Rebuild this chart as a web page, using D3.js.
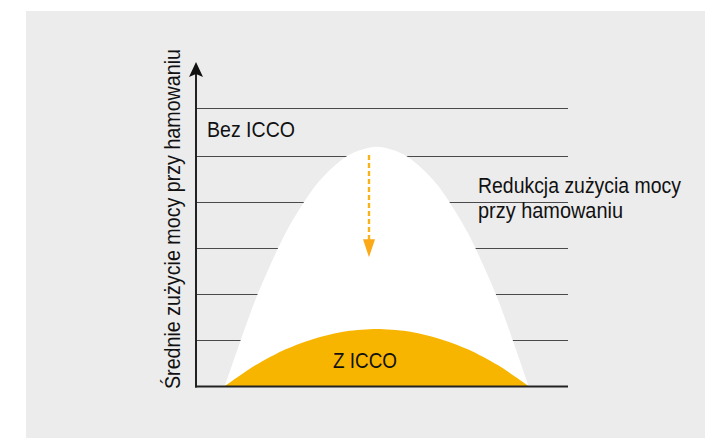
<!DOCTYPE html>
<html>
<head>
<meta charset="utf-8">
<script src="https://cdn.jsdelivr.net/npm/d3@7"></script>
<style>
  html, body { margin: 0; padding: 0; background: #ffffff; }
  svg { display: block; }
  text { font-family: "Liberation Sans", Arial, sans-serif; fill: #111; }
</style>
</head>
<body>
<svg id="chart" width="705" height="438"></svg>
<script>
// ---- data (schematic) ----
const timeSteps = [0, 1, 2, 3, 4, 5, 6, 7, 8, 9, 10];
const withoutIcco = [0, 1.87, 3.33, 4.37, 4.99, 5.2, 4.99, 4.37, 3.33, 1.87, 0];
const withIcco = [0, 0.45, 0.8, 1.04, 1.19, 1.24, 1.19, 1.04, 0.8, 0.45, 0];
const gridValues = [1, 2, 3, 4, 5, 6.04];
const yAxisTitle = "Średnie zużycie mocy przy hamowaniu";
const labelWithout = "Bez ICCO";
const labelWith = "Z ICCO";
const reductionLines = ["Redukcja zużycia mocy", "przy hamowaniu"];
const reductionFrom = 5.0;   // dashed arrow start (value units)
const reductionTo = 2.8;     // dashed arrow end

const svg = d3.select("#chart");

// background panel
svg.append("rect").attr("x", 26).attr("y", 11).attr("width", 679).attr("height", 427).attr("fill", "#ececec");

const x0 = 196, x1 = 568, yBase = 386;
const x = d3.scaleLinear().domain([0, 10]).range([225, 528.5]);
const y = d3.scaleLinear().domain([0, 5]).range([yBase, 156]);

// gridlines
svg.append("g").selectAll("line").data(gridValues).join("line")
  .attr("x1", x0).attr("x2", x1)
  .attr("y1", d => Math.round(y(d)) + 0.5).attr("y2", d => Math.round(y(d)) + 0.5)
  .attr("stroke", "#4a4a4a").attr("stroke-width", 1.2);

// areas
const area = vals => d3.area()
  .x((d, i) => x(timeSteps[i]))
  .y0(y(0))
  .y1(d => y(d))
  .curve(d3.curveCardinal.tension(0.2))(vals);

svg.append("path").attr("d", area(withoutIcco)).attr("fill", "#ffffff");
svg.append("path").attr("d", area(withIcco)).attr("fill", "#f8b500");

// baseline
svg.append("line").attr("x1", x0 - 1).attr("x2", x1).attr("y1", yBase + 0.5).attr("y2", yBase + 0.5)
  .attr("stroke", "#222").attr("stroke-width", 2.2);

// y axis with arrow
svg.append("line").attr("x1", x0).attr("x2", x0).attr("y1", yBase + 1.5).attr("y2", 72)
  .attr("stroke", "#222").attr("stroke-width", 2);
svg.append("path")
  .attr("d", `M${x0},62 L${x0 + 7},77 L${x0},74 L${x0 - 7},77 Z`)
  .attr("fill", "#111");

// dashed reduction arrow
const ax = 369;
svg.append("line").attr("x1", ax).attr("x2", ax)
  .attr("y1", y(reductionFrom) - 1).attr("y2", y(reductionTo) - 14)
  .attr("stroke", "#fbb21a").attr("stroke-width", 2.4).attr("stroke-dasharray", "5,3");
svg.append("path")
  .attr("d", `M${ax - 6},${y(reductionTo) - 18} L${ax + 6},${y(reductionTo) - 18} L${ax},${y(reductionTo)} Z`)
  .attr("fill", "#fba919");

// texts
function label(txt, tx, ty, len) {
  return svg.append("text").attr("x", tx).attr("y", ty)
    .attr("font-size", 22)
    .attr("textLength", len).attr("lengthAdjust", "spacingAndGlyphs")
    .text(txt);
}
label(labelWithout, 207, 137, 88);
label(labelWith, 333, 368, 64);
label(reductionLines[0], 478, 193, 203);
label(reductionLines[1], 478, 218, 145);

svg.append("text")
  .attr("transform", "translate(180,389) rotate(-90)")
  .attr("font-size", 22)
  .attr("textLength", 340).attr("lengthAdjust", "spacingAndGlyphs")
  .text(yAxisTitle);
</script>
</body>
</html>
